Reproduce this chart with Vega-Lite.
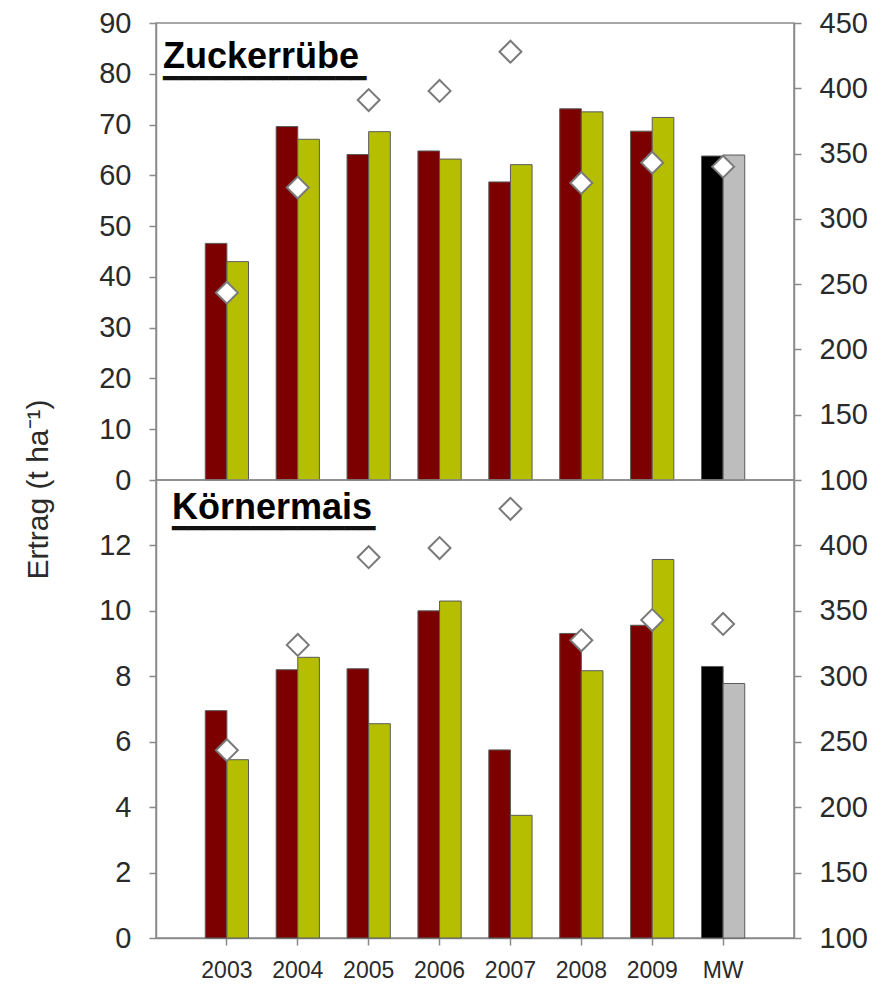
{
  "$schema": "https://vega.github.io/schema/vega-lite/v6.json",
  "background": "white",
  "padding": {"left": 22, "top": 8, "right": 5, "bottom": 5},
  "bounds": "flush",
  "datasets": {
    "zr": [
      {"jahr": "2003", "reihe": "1", "gruppe": "V1", "ertrag": 46.6},
      {"jahr": "2003", "reihe": "2", "gruppe": "V2", "ertrag": 43.0},
      {"jahr": "2004", "reihe": "1", "gruppe": "V1", "ertrag": 69.6},
      {"jahr": "2004", "reihe": "2", "gruppe": "V2", "ertrag": 67.1},
      {"jahr": "2005", "reihe": "1", "gruppe": "V1", "ertrag": 64.1},
      {"jahr": "2005", "reihe": "2", "gruppe": "V2", "ertrag": 68.6},
      {"jahr": "2006", "reihe": "1", "gruppe": "V1", "ertrag": 64.8},
      {"jahr": "2006", "reihe": "2", "gruppe": "V2", "ertrag": 63.2},
      {"jahr": "2007", "reihe": "1", "gruppe": "V1", "ertrag": 58.7},
      {"jahr": "2007", "reihe": "2", "gruppe": "V2", "ertrag": 62.1},
      {"jahr": "2008", "reihe": "1", "gruppe": "V1", "ertrag": 73.1},
      {"jahr": "2008", "reihe": "2", "gruppe": "V2", "ertrag": 72.5},
      {"jahr": "2009", "reihe": "1", "gruppe": "V1", "ertrag": 68.7},
      {"jahr": "2009", "reihe": "2", "gruppe": "V2", "ertrag": 71.4},
      {"jahr": "MW", "reihe": "1", "gruppe": "MW1", "ertrag": 63.8},
      {"jahr": "MW", "reihe": "2", "gruppe": "MW2", "ertrag": 64.0}
    ],
    "km": [
      {"jahr": "2003", "reihe": "1", "gruppe": "V1", "ertrag": 6.95},
      {"jahr": "2003", "reihe": "2", "gruppe": "V2", "ertrag": 5.45},
      {"jahr": "2004", "reihe": "1", "gruppe": "V1", "ertrag": 8.2},
      {"jahr": "2004", "reihe": "2", "gruppe": "V2", "ertrag": 8.58},
      {"jahr": "2005", "reihe": "1", "gruppe": "V1", "ertrag": 8.23},
      {"jahr": "2005", "reihe": "2", "gruppe": "V2", "ertrag": 6.55},
      {"jahr": "2006", "reihe": "1", "gruppe": "V1", "ertrag": 10.0},
      {"jahr": "2006", "reihe": "2", "gruppe": "V2", "ertrag": 10.3},
      {"jahr": "2007", "reihe": "1", "gruppe": "V1", "ertrag": 5.75},
      {"jahr": "2007", "reihe": "2", "gruppe": "V2", "ertrag": 3.75},
      {"jahr": "2008", "reihe": "1", "gruppe": "V1", "ertrag": 9.31},
      {"jahr": "2008", "reihe": "2", "gruppe": "V2", "ertrag": 8.17},
      {"jahr": "2009", "reihe": "1", "gruppe": "V1", "ertrag": 9.56},
      {"jahr": "2009", "reihe": "2", "gruppe": "V2", "ertrag": 11.57},
      {"jahr": "MW", "reihe": "1", "gruppe": "MW1", "ertrag": 8.3},
      {"jahr": "MW", "reihe": "2", "gruppe": "MW2", "ertrag": 7.78}
    ],
    "raute": [
      {"jahr": "2003", "wert": 243.5},
      {"jahr": "2004", "wert": 324},
      {"jahr": "2005", "wert": 391},
      {"jahr": "2006", "wert": 398},
      {"jahr": "2007", "wert": 428},
      {"jahr": "2008", "wert": 327.5},
      {"jahr": "2009", "wert": 343},
      {"jahr": "MW", "wert": 340}
    ]
  },
  "config": {
    "font": "Liberation Sans",
    "view": {"stroke": "#8a8a8a", "strokeWidth": 1.5},
    "axis": {
      "labelFont": "Liberation Sans",
      "labelColor": "#2a2a2a",
      "domainColor": "#8a8a8a",
      "domainWidth": 1.5,
      "tickColor": "#8a8a8a",
      "tickWidth": 1.5,
      "tickSize": 7,
      "grid": false
    },
    "title": {"font": "Liberation Sans"}
  },
  "vconcat": [
    {
      "width": 638,
      "height": 457,
      "title": {
        "text": "Zuckerrübe",
        "subtitle": "━━━━━━━━━━━━━",
        "anchor": "start",
        "frame": "group",
        "fontSize": 36,
        "fontWeight": "bold",
        "color": "black",
        "subtitleFont": "DejaVu Sans",
        "subtitleFontSize": 26,
        "subtitleColor": "#111",
        "subtitlePadding": -10,
        "dx": 7,
        "dy": 88
      },
      "layer": [
        {
          "data": {"name": "zr"},
          "mark": {"type": "bar", "stroke": "#5a5a5a", "strokeWidth": 1},
          "encoding": {
            "x": {"field": "jahr", "type": "nominal", "sort": null, "scale": {"paddingInner": 0.39, "paddingOuter": 0.695}, "axis": null},
            "xOffset": {"field": "reihe", "type": "nominal", "scale": {"paddingInner": 0, "paddingOuter": 0}},
            "y": {
              "field": "ertrag", "type": "quantitative",
              "scale": {"domain": [0, 90], "nice": false},
              "axis": {
                "values": [0, 10, 20, 30, 40, 50, 60, 70, 80, 90],
                "labelFontSize": 29, "labelPadding": 18,
                "title": "Ertrag (t ha⁻¹)", "titleFontSize": 30, "titleFontWeight": "normal",
                "titleColor": "#2a2a2a", "titleX": -118, "titleY": 466, "titleAlign": "center", "titleBaseline": "middle", "titleAngle": 270
              }
            },
            "color": {
              "field": "gruppe", "type": "nominal",
              "scale": {"domain": ["V1", "V2", "MW1", "MW2"], "range": ["#7d0000", "#b5bf00", "#000000", "#bdbdbd"]},
              "legend": null
            }
          }
        },
        {
          "data": {"name": "raute"},
          "mark": {"type": "point", "shape": "diamond", "filled": true, "fill": "white", "stroke": "#7a7a7a", "strokeWidth": 2, "size": 480, "opacity": 1},
          "encoding": {
            "x": {"field": "jahr", "type": "nominal", "sort": null},
            "y": {
              "field": "wert", "type": "quantitative",
              "scale": {"domain": [100, 450], "nice": false, "zero": false},
              "axis": {"orient": "right", "values": [100, 150, 200, 250, 300, 350, 400, 450], "labelFontSize": 29, "labelPadding": 18, "title": null}
            }
          }
        }
      ],
      "resolve": {"scale": {"y": "independent"}}
    },
    {
      "width": 638,
      "height": 458,
      "title": {
        "text": "Körnermais",
        "subtitle": "━━━━━━━━━━━━━",
        "anchor": "start",
        "frame": "group",
        "fontSize": 36,
        "fontWeight": "bold",
        "color": "black",
        "subtitleFont": "DejaVu Sans",
        "subtitleFontSize": 26,
        "subtitleColor": "#111",
        "subtitlePadding": -11,
        "dx": 16,
        "dy": 67
      },
      "layer": [
        {
          "data": {"name": "km"},
          "mark": {"type": "bar", "stroke": "#5a5a5a", "strokeWidth": 1},
          "encoding": {
            "x": {
              "field": "jahr", "type": "nominal", "sort": null,
              "scale": {"paddingInner": 0.39, "paddingOuter": 0.695},
              "axis": {"labelAngle": 0, "labelFontSize": 23, "labelPadding": 14, "title": null}
            },
            "xOffset": {"field": "reihe", "type": "nominal", "scale": {"paddingInner": 0, "paddingOuter": 0}},
            "y": {
              "field": "ertrag", "type": "quantitative",
              "scale": {"domain": [0, 14], "nice": false},
              "axis": {"values": [0, 2, 4, 6, 8, 10, 12], "labelFontSize": 29, "labelPadding": 18, "title": null}
            },
            "color": {
              "field": "gruppe", "type": "nominal",
              "scale": {"domain": ["V1", "V2", "MW1", "MW2"], "range": ["#7d0000", "#b5bf00", "#000000", "#bdbdbd"]},
              "legend": null
            }
          }
        },
        {
          "data": {"name": "raute"},
          "mark": {"type": "point", "shape": "diamond", "filled": true, "fill": "white", "stroke": "#7a7a7a", "strokeWidth": 2, "size": 480, "opacity": 1},
          "encoding": {
            "x": {"field": "jahr", "type": "nominal", "sort": null},
            "y": {
              "field": "wert", "type": "quantitative",
              "scale": {"domain": [100, 450], "nice": false, "zero": false},
              "axis": {"orient": "right", "values": [100, 150, 200, 250, 300, 350, 400], "labelFontSize": 29, "labelPadding": 18, "title": null}
            }
          }
        }
      ],
      "resolve": {"scale": {"y": "independent"}}
    }
  ],
  "spacing": 0
}
